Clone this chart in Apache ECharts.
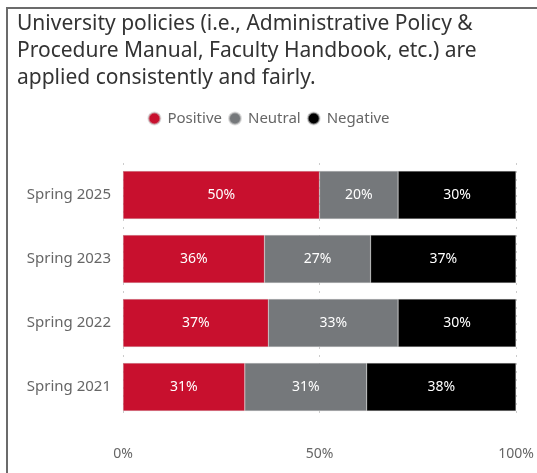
<!DOCTYPE html>
<html>
<head>
<meta charset="utf-8">
<script src="https://cdn.jsdelivr.net/npm/echarts@6/dist/echarts.min.js"></script>
<style>
  html, body { margin: 0; padding: 0; background: #fff; }
  #chart { width: 537px; height: 473px; }
</style>
</head>
<body>
<div id="chart"></div>
<script>
// Survey periods, top to bottom
const categories = ['Spring 2025', 'Spring 2023', 'Spring 2022', 'Spring 2021'];
// Share of responses (%)
const positive = [50, 36, 37, 31];
const neutral = [20, 27, 33, 31];
const negative = [30, 37, 30, 38];
const xTicks = [0, 50, 100];

const titleText = 'University policies (i.e., Administrative Policy &\nProcedure Manual, Faculty Handbook, etc.) are\napplied consistently and fairly.';
const fontFamily = '"Noto Sans", "DejaVu Sans", sans-serif';

function barSeries(name, data, color) {
  return {
    name: name,
    type: 'bar',
    stack: 'total',
    barCategoryGap: '25%',
    data: data,
    itemStyle: { color: color, borderColor: 'rgba(200,200,200,0.6)', borderWidth: 0.5 },
    label: {
      show: true,
      position: 'inside',
      formatter: '{c}%',
      color: '#fff',
      fontSize: 14,
      fontFamily: fontFamily
    }
  };
}

const chart = echarts.init(document.getElementById('chart'), null, { renderer: 'canvas' });
chart.setOption({
  animation: false,
  backgroundColor: '#fff',
  graphic: [{
    type: 'rect',
    shape: { x: 7, y: 8, width: 560, height: 500 },
    style: { fill: 'none', stroke: '#6b6b6b', lineWidth: 2 },
    silent: true
  }],
  title: {
    text: titleText,
    left: 12,
    top: 6,
    textStyle: {
      fontFamily: fontFamily,
      fontSize: 21,
      fontWeight: 'normal',
      color: '#333',
      lineHeight: 27
    }
  },
  legend: {
    top: 106,
    left: 'center',
    icon: 'circle',
    itemWidth: 12,
    itemHeight: 12,
    itemGap: 6,
    textStyle: { fontFamily: fontFamily, fontSize: 15, color: '#666', padding: [0, 0, 0, 2] },
    data: ['Positive', 'Neutral', 'Negative']
  },
  grid: { left: 123, right: 21, top: 163, bottom: 54, containLabel: false },
  xAxis: {
    type: 'value',
    min: 0,
    max: 100,
    interval: 50,
    axisLine: { show: false },
    axisTick: { show: false },
    axisLabel: {
      formatter: v => xTicks.indexOf(v) >= 0 ? v + '%' : '',
      color: '#666',
      fontSize: 14,
      fontFamily: fontFamily,
      margin: 28
    },
    splitLine: { show: true, lineStyle: { color: '#ccc', type: [2, 6], width: 1 } }
  },
  yAxis: {
    type: 'category',
    inverse: true,
    data: categories,
    axisLine: { show: false },
    axisTick: { show: false },
    axisLabel: { color: '#666', fontSize: 15, fontFamily: fontFamily, margin: 12 }
  },
  series: [
    barSeries('Positive', positive, '#C8102E'),
    barSeries('Neutral', neutral, '#75787B'),
    barSeries('Negative', negative, '#000000')
  ]
});
</script>
</body>
</html>
